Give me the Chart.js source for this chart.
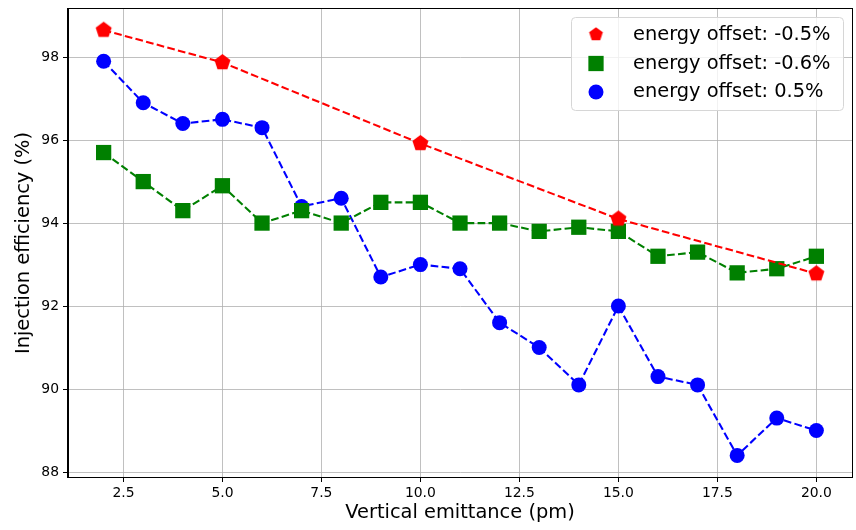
<!DOCTYPE html>
<html><head><meta charset="utf-8">
<script src="https://cdn.jsdelivr.net/npm/chart.js@4/dist/chart.umd.min.js"></script>
<style>html,body{margin:0;padding:0;background:#fff}#wrap{width:856px;height:530px}</style>
</head><body><div id="wrap"><canvas id="c" width="856" height="530"></canvas></div>
<script>
// ---- data ----
const xRed = [2, 5, 10, 15, 20];
const yRed = [98.65, 97.87, 95.92, 94.1, 92.78];
const xGB = [2, 3, 4, 5, 6, 7, 8, 9, 10, 11, 12, 13, 14, 15, 16, 17, 18, 19, 20];
const yGreen = [95.7, 95.0, 94.3, 94.9, 94.0, 94.3, 94.0, 94.5, 94.5, 94.0, 94.0, 93.8, 93.9, 93.8, 93.2, 93.3, 92.8, 92.9, 93.2];
const yBlue = [97.9, 96.9, 96.4, 96.5, 96.3, 94.4, 94.6, 92.7, 93.0, 92.9, 91.6, 91.0, 90.1, 92.0, 90.3, 90.1, 88.4, 89.3, 89.0];
const seriesLabels = ['energy offset: -0.5%', 'energy offset: -0.6%', 'energy offset: 0.5%'];
const xTicks = [2.5, 5, 7.5, 10, 12.5, 15, 17.5, 20];
const yTicks = [88, 90, 92, 94, 96, 98];
const xTitle = 'Vertical emittance (pm)';
const yTitle = 'Injection efficiency (%)';

// ---- styles ----
const FONT = "'DejaVu Sans', 'Liberation Sans', sans-serif";
function pentagon(r, color) {
  const s = Math.ceil(2 * r + 2);
  const cv = document.createElement('canvas');
  cv.width = s; cv.height = s;
  const g = cv.getContext('2d');
  g.fillStyle = color;
  g.beginPath();
  for (let i = 0; i < 5; i++) {
    const a = -Math.PI / 2 + i * 2 * Math.PI / 5;
    const px = s / 2 + r * Math.cos(a), py = s / 2 + r * Math.sin(a);
    if (i === 0) g.moveTo(px, py); else g.lineTo(px, py);
  }
  g.closePath(); g.fill();
  return cv;
}
const pent = pentagon(8.4, '#ff0000');
const pentLegend = pentagon(7.2, '#ff0000');
const dash = [7.7, 3.3];

const datasets = [
  { label: seriesLabels[0], data: xRed.map((x, i) => ({ x, y: yRed[i] })),
    borderColor: '#ff0000', backgroundColor: '#ff0000', borderWidth: 2.08, borderDash: dash,
    pointStyle: pent, pointRadius: 8, pointHoverRadius: 8, order: 1 },
  { label: seriesLabels[1], data: xGB.map((x, i) => ({ x, y: yGreen[i] })),
    borderColor: '#008000', backgroundColor: '#008000', borderWidth: 2.08, borderDash: dash,
    pointStyle: 'rect', pointRadius: 10.8, pointHoverRadius: 10.8, pointBorderWidth: 0, order: 2 },
  { label: seriesLabels[2], data: xGB.map((x, i) => ({ x, y: yBlue[i] })),
    borderColor: '#0000ff', backgroundColor: '#0000ff', borderWidth: 2.08, borderDash: dash,
    pointStyle: 'circle', pointRadius: 7.5, pointHoverRadius: 7.5, pointBorderWidth: 0, order: 3 }
];

const framePlugin = {
  id: 'frame',
  afterDraw(chart) {
    const ctx = chart.ctx, a = chart.chartArea;
    ctx.save();
    ctx.strokeStyle = '#000'; ctx.lineWidth = 1;
    ctx.strokeRect(Math.round(a.left) - 0.5, Math.round(a.top) - 0.5, Math.round(a.right - a.left) + 1, Math.round(a.bottom - a.top) + 1);
    // legend
    const bx = 571, by = 17, bw = 272, bh = 93, r = 4;
    ctx.globalAlpha = 0.8;
    ctx.fillStyle = '#fff';
    ctx.beginPath();
    ctx.roundRect(bx, by, bw, bh, r);
    ctx.fill();
    ctx.globalAlpha = 1;
    ctx.strokeStyle = '#d6d6d6'; ctx.lineWidth = 1;
    ctx.beginPath(); ctx.roundRect(bx + 0.5, by + 0.5, bw, bh, r); ctx.stroke();
    const rows = [34.5, 63.5, 92];
    const mx = 596;
    chart.data.datasets.forEach((ds, i) => {
      const cy = rows[i];
      ctx.fillStyle = ds.backgroundColor;
      if (typeof ds.pointStyle === 'string') {
        ctx.beginPath();
        if (ds.pointStyle === 'rect') { const s = ds.pointRadius * Math.SQRT1_2; ctx.rect(mx - s, cy - s, 2 * s, 2 * s); }
        else { ctx.arc(mx, cy, ds.pointRadius, 0, Math.PI * 2); }
        ctx.fill();
      } else {
        ctx.drawImage(pentLegend, mx - pentLegend.width / 2, cy - pentLegend.height / 2);
      }
      ctx.fillStyle = '#000';
      ctx.font = '19.4px ' + FONT;
      ctx.textBaseline = 'middle';
      ctx.textAlign = 'left';
      ctx.fillText(ds.label, 633, cy);
    });
    ctx.restore();
  }
};

const tickFont = { family: FONT, size: 13.9 };
const titleFont = { family: FONT, size: 19.4 };

new Chart(document.getElementById('c'), {
  type: 'line',
  data: { datasets },
  options: {
    responsive: false, animation: false, devicePixelRatio: 1,
    layout: { autoPadding: false, padding: { left: 0, right: 4, top: 9, bottom: 0 } },
    plugins: { legend: { display: false }, tooltip: { enabled: false } },
    scales: {
      x: {
        type: 'linear', min: 1.1, max: 20.9,
        afterBuildTicks: s => { s.ticks = xTicks.map(v => ({ value: v })); },
        afterFit: s => { s.height = 53; s.paddingLeft = 0; s.paddingRight = 0; s.paddingTop = 0; s.paddingBottom = 0; },
        ticks: { callback: v => Number(v).toFixed(1), font: tickFont, color: '#000', padding: 3, maxRotation: 0, autoSkip: false },
        grid: { color: '#b0b0b0', lineWidth: 0.8, tickLength: 5, tickColor: '#000', tickWidth: 1 },
        border: { display: true, color: '#000', width: 1 },
        title: { display: true, text: xTitle, font: titleFont, color: '#000', padding: { top: 0, bottom: 5 } }
      },
      y: {
        type: 'linear', min: 87.88, max: 99.16,
        afterBuildTicks: s => { s.ticks = yTicks.map(v => ({ value: v })); },
        afterFit: s => { s.width = 68; s.paddingLeft = 0; s.paddingRight = 0; s.paddingTop = 0; s.paddingBottom = 0; },
        ticks: { callback: v => String(v), font: tickFont, color: '#000', padding: 4, autoSkip: false },
        grid: { color: '#b0b0b0', lineWidth: 0.8, tickLength: 5, tickColor: '#000', tickWidth: 1 },
        border: { display: true, color: '#000', width: 1 },
        title: { display: true, text: yTitle, font: titleFont, color: '#000', padding: { top: 12, bottom: 0 } }
      }
    }
  },
  plugins: [framePlugin]
});
</script>
</body></html>
